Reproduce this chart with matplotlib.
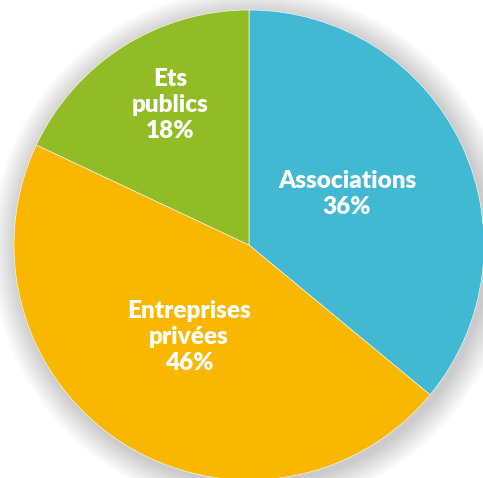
import matplotlib
matplotlib.use("Agg")
import matplotlib.pyplot as plt
from matplotlib.patches import Circle

categories = ["Associations", "Entreprises\nprivées", "Ets\npublics"]
values = [36, 46, 18]
colors = ["#41B9D3", "#F9B700", "#92BC26"]

W, H = 483, 478
fig = plt.figure(figsize=(W/100, H/100), dpi=100)
ax = fig.add_axes([0, 0, 1, 1])

cx, cy, r = 249, H - 245, 235

# soft shadow
for k in range(26, 0, -1):
    ax.add_patch(Circle((cx + 3, cy - 4), r + k, color="black", alpha=0.009, lw=0, zorder=0))

wedges, _ = ax.pie(values, colors=colors, startangle=90, counterclock=False,
                   center=(cx, cy), radius=r, frame=True,
                   wedgeprops=dict(edgecolor="white", linewidth=0.4))
ax.set_xlim(0, W)
ax.set_ylim(0, H)
ax.set_aspect("equal")
ax.axis("off")

labels_pos = [(347, 194), (189, 337), (170, 105)]
for lab, v, (x, y) in zip(categories, values, labels_pos):
    ax.text(x, H - y, f"{lab}\n{v}%", ha="center", va="center", color="white",
            fontsize=17.5, fontweight="heavy", family="Lato", linespacing=1.2)

fig.savefig("out.png", dpi=100)
